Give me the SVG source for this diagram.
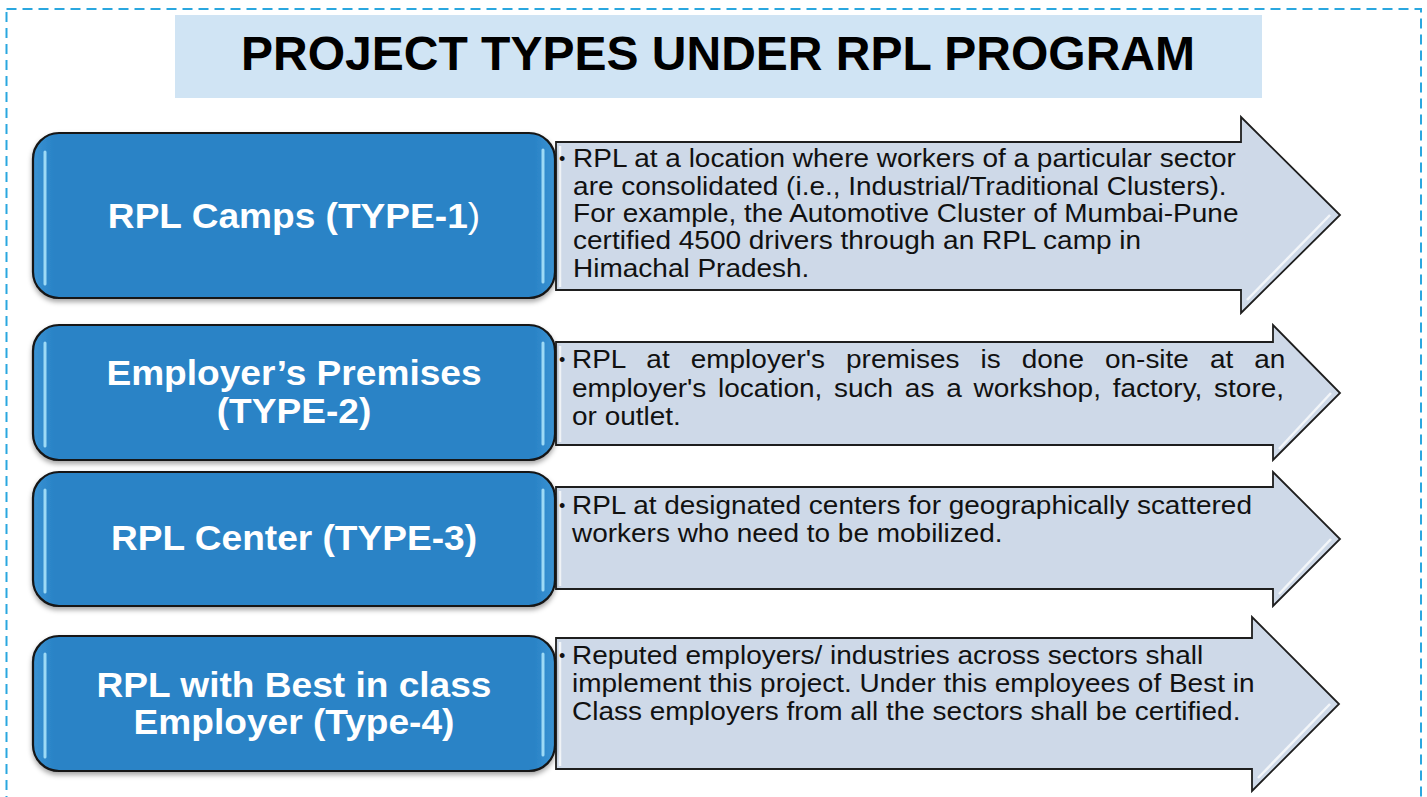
<svg xmlns="http://www.w3.org/2000/svg" width="1427" height="797" viewBox="0 0 1427 797">
<defs>
<style>
.frame{fill:none;stroke:#2AA7DF;stroke-width:2;stroke-dasharray:10 6}
.titlebox{fill:#D0E4F4}
.title{font-family:"Liberation Sans",Arial,sans-serif;font-weight:bold;font-size:48px;fill:#000;text-anchor:middle}
.box{fill:url(#boxg);stroke:#141414;stroke-width:2.2;filter:url(#sh)}
.gloss{stroke:#A8E2FA;stroke-width:3;stroke-linecap:round;fill:none;opacity:0.9}
.btxt{font-family:"Liberation Sans",Arial,sans-serif;font-weight:bold;font-size:35px;fill:#fff;text-anchor:middle}
.arrow{fill:#CED9E8;stroke:#1E1E1E;stroke-width:1.8;stroke-linejoin:miter}
.bevel{fill:none;stroke:#FFFFFF;stroke-width:2.5;opacity:0.75}
.atxt{font-family:"Liberation Sans",Arial,sans-serif;font-size:26px;fill:#111}
.bul{font-family:"Liberation Sans",Arial,sans-serif;font-size:18px;fill:#111}
</style>
<linearGradient id="boxg" x1="0" y1="0" x2="1" y2="0">
<stop offset="0" stop-color="#3A93D4"/>
<stop offset="0.04" stop-color="#2A83C6"/>
<stop offset="0.96" stop-color="#2A83C6"/>
<stop offset="1" stop-color="#3A93D4"/>
</linearGradient>
<filter id="sh" x="-5%" y="-10%" width="110%" height="125%">
<feDropShadow dx="0" dy="3" stdDeviation="2.5" flood-color="#000" flood-opacity="0.35"/>
</filter>
</defs>

<rect class="frame" x="6.5" y="9" width="1414.5" height="800"/>

<g id="title">
<rect class="titlebox" x="175" y="15" width="1087" height="83"/>
<text class="title" x="718" y="70">PROJECT TYPES UNDER RPL PROGRAM</text>
</g>

<g id="desc-1">
<path class="arrow" d="M556,142 H1241 V117 L1340,215 L1241,313 V290 H556 Z"/>
<path class="bevel" d="M1247,300 L1330,215"/>
<path class="bevel" d="M560,287 V146"/>
<text class="bul" x="559" y="165">•</text>
<g transform="translate(572,0) scale(1.076,1) translate(-572,0)">
<text class="atxt" x="573" y="167">RPL at a location where workers of a particular sector</text>
<text class="atxt" x="573" y="195">are consolidated (i.e., Industrial/Traditional Clusters).</text>
<text class="atxt" x="573" y="222">For example, the Automotive Cluster of Mumbai-Pune</text>
<text class="atxt" x="573" y="249">certified 4500 drivers through an RPL camp in</text>
<text class="atxt" x="573" y="277">Himachal Pradesh.</text>
</g>
</g>

<g id="desc-2">
<path class="arrow" d="M556,342 H1273 V325 L1340,393 L1273,460 V445 H556 Z"/>
<path class="bevel" d="M1279,449 L1331,393"/>
<path class="bevel" d="M560,442 V346"/>
<text class="bul" x="559" y="366">•</text>
<g transform="translate(572,0) scale(1.076,1) translate(-572,0)">
<text class="atxt" x="572" y="368" word-spacing="12.3">RPL at employer's premises is done on-site at an</text>
<text class="atxt" x="572" y="397" word-spacing="3.7">employer's location, such as a workshop, factory, store,</text>
<text class="atxt" x="572" y="425">or outlet.</text>
</g>
</g>

<g id="desc-3">
<path class="arrow" d="M556,487 H1273 V472 L1340,539 L1273,606 V589 H556 Z"/>
<path class="bevel" d="M1279,594 L1331,539"/>
<path class="bevel" d="M560,586 V491"/>
<text class="bul" x="559" y="512">•</text>
<g transform="translate(572,0) scale(1.076,1) translate(-572,0)">
<text class="atxt" x="572" y="514">RPL at designated centers for geographically scattered</text>
<text class="atxt" x="572" y="542">workers who need to be mobilized.</text>
</g>
</g>

<g id="desc-4">
<path class="arrow" d="M556,638 H1252 V617 L1339,704 L1252,791 V769 H556 Z"/>
<path class="bevel" d="M1258,778 L1330,704"/>
<path class="bevel" d="M560,766 V642"/>
<text class="bul" x="559" y="662">•</text>
<g transform="translate(572,0) scale(1.076,1) translate(-572,0)">
<text class="atxt" x="572" y="664">Reputed employers/ industries across sectors shall</text>
<text class="atxt" x="572" y="692">implement this project. Under this employees of Best in</text>
<text class="atxt" x="572" y="720">Class employers from all the sectors shall be certified.</text>
</g>
</g>

<g id="type-1">
<rect class="box" x="33" y="133" width="522" height="165" rx="26"/>
<path class="gloss" d="M45,152 V284 M543,150 V282"/>
<text class="btxt" x="294" y="228" transform="translate(294,0) scale(1.06,1) translate(-294,0)">RPL Camps (TYPE-1<tspan font-weight="normal">)</tspan></text>
</g>

<g id="type-2">
<rect class="box" x="33" y="325" width="522" height="135" rx="26"/>
<path class="gloss" d="M45,343 V446 M543,343 V444"/>
<g transform="translate(294,0) scale(1.06,1) translate(-294,0)">
<text class="btxt" x="294" y="385">Employer’s Premises</text>
<text class="btxt" x="294" y="423">(TYPE-2)</text>
</g>
</g>

<g id="type-3">
<rect class="box" x="33" y="472" width="522" height="134" rx="26"/>
<path class="gloss" d="M45,490 V592 M543,490 V590"/>
<text class="btxt" x="294" y="550" transform="translate(294,0) scale(1.06,1) translate(-294,0)">RPL Center (TYPE-3)</text>
</g>

<g id="type-4">
<rect class="box" x="33" y="636" width="522" height="135" rx="26"/>
<path class="gloss" d="M45,654 V757 M543,654 V755"/>
<g transform="translate(294,0) scale(1.06,1) translate(-294,0)">
<text class="btxt" x="294" y="697">RPL with Best in class</text>
<text class="btxt" x="294" y="734">Employer (Type-4)</text>
</g>
</g>

<g id="connectors"></g>
</svg>
